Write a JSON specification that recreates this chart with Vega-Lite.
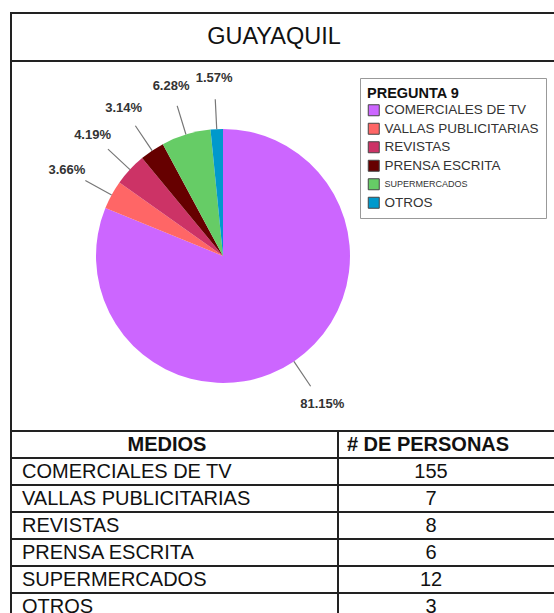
{
  "$schema": "https://vega.github.io/schema/vega-lite/v6.json",
  "padding": {"left": 9, "top": 12, "right": 0, "bottom": 0},
  "background": "white",
  "bounds": "flush",
  "datasets": {
    "medios": [
      {"orden": 1, "medio": "COMERCIALES DE TV", "personas": 155, "pct": 0.8115},
      {"orden": 2, "medio": "VALLAS PUBLICITARIAS", "personas": 7, "pct": 0.0366},
      {"orden": 3, "medio": "REVISTAS", "personas": 8, "pct": 0.0419},
      {"orden": 4, "medio": "PRENSA ESCRITA", "personas": 6, "pct": 0.0314},
      {"orden": 5, "medio": "SUPERMERCADOS", "personas": 12, "pct": 0.0628},
      {"orden": 6, "medio": "OTROS", "personas": 3, "pct": 0.0157}
    ]
  },
  "config": {
    "view": {"stroke": "#222", "strokeWidth": 2},
    "font": "Liberation Sans",
    "concat": {"spacing": 0}
  },
  "spacing": 0,
  "vconcat": [
    {
      "width": 565,
      "height": 48,
      "data": {"values": [{"titulo": "GUAYAQUIL"}]},
      "layer": [
        {
          "mark": {"type": "rect", "fill": "white", "stroke": "#222", "strokeWidth": 2},
          "encoding": {}
        },
        {
          "mark": {"type": "text", "x": 263, "fontSize": 23.5, "color": "#111", "baseline": "middle"},
          "encoding": {"text": {"field": "titulo"}}
        }
      ]
    },
    {
      "width": 565,
      "height": 370,
      "data": {"name": "medios"},
      "layer": [
        {
          "data": {"values": [{"marco": "grafico"}]},
          "mark": {"type": "rect", "fill": "white", "stroke": "#222", "strokeWidth": 2},
          "encoding": {}
        },
        {
          "mark": {"type": "arc", "x": 212, "y": 195, "radius": 127},
          "encoding": {
            "theta": {"field": "personas", "type": "quantitative", "stack": "normalize"},
            "order": {"field": "orden"},
            "color": {
              "field": "medio",
              "type": "nominal",
              "scale": {
                "domain": ["COMERCIALES DE TV", "VALLAS PUBLICITARIAS", "REVISTAS", "PRENSA ESCRITA", "SUPERMERCADOS", "OTROS"],
                "range": ["#CC66FF", "#FF6666", "#CC3366", "#660000", "#66CC66", "#0099CC"]
              },
              "legend": {
                "title": "PREGUNTA 9",
                "orient": "none",
                "legendX": 349,
                "legendY": 65,
                "strokeColor": "#999",
                "fillColor": "white",
                "padding": 7,
                "cornerRadius": 0,
                "titleFontSize": 14.5,
                "titleFontWeight": "bold",
                "titleColor": "#111",
                "titlePadding": 4,
                "labelFontSize": 13.5,
                "labelColor": "#333",
                "labelLimit": 300,
                "labelOffset": 4,
                "symbolType": "square",
                "symbolSize": 121,
                "symbolStrokeColor": "#444",
                "symbolStrokeWidth": 1,
                "symbolOpacity": 1,
                "rowPadding": 2.5,
                "encode": {
                  "title": {"update": {"dy": {"value": 2}}},
                  "labels": {
                    "update": {
                      "fontSize": {"signal": "datum.value === 'SUPERMERCADOS' ? 9 : 13.5"}
                    }
                  }
                }
              }
            }
          }
        },
        {
          "transform": [
            {"fold": ["personas", "personas", "personas"], "as": ["clave", "valor"]},
            {"window": [{"op": "row_number", "as": "tercio"}], "groupby": ["medio"]}
          ],
          "mark": {
            "type": "arc",
            "x": 212,
            "y": 195,
            "radius": 157,
            "radius2": 127,
            "padAngle": 3.14,
            "filled": false,
            "stroke": "#777",
            "strokeWidth": 1.2
          },
          "encoding": {
            "theta": {"field": "valor", "type": "quantitative", "stack": "normalize"},
            "order": [{"field": "orden"}, {"field": "tercio"}],
            "strokeOpacity": {"condition": {"test": "datum.tercio === 2", "value": 1}, "value": 0}
          }
        },
        {
          "mark": {
            "type": "text",
            "x": 212,
            "y": 195,
            "radius": 178,
            "fontSize": 13,
            "fontWeight": "bold",
            "color": "#333"
          },
          "encoding": {
            "theta": {"field": "personas", "type": "quantitative", "stack": "normalize"},
            "order": {"field": "orden"},
            "text": {"field": "pct", "type": "quantitative", "format": ".2%"}
          }
        }
      ]
    },
    {
      "spacing": 0,
      "bounds": "flush",
      "hconcat": [
        {
          "width": 327,
          "height": 189,
          "data": {"name": "medios"},
          "layer": [
            {
              "mark": {"type": "rect", "fill": "white", "stroke": "#222", "strokeWidth": 2},
              "encoding": {
                "y": {
                  "field": "medio",
                  "type": "nominal",
                  "scale": {
                    "domain": ["MEDIOS", "COMERCIALES DE TV", "VALLAS PUBLICITARIAS", "REVISTAS", "PRENSA ESCRITA", "SUPERMERCADOS", "OTROS"],
                    "paddingInner": 0,
                    "paddingOuter": 0
                  },
                  "axis": null
                }
              }
            },
            {
              "mark": {"type": "text", "align": "left", "x": 11, "fontSize": 20, "color": "#111"},
              "encoding": {
                "y": {"field": "medio", "type": "nominal", "axis": null},
                "text": {"field": "medio"}
              }
            },
            {
              "data": {"values": [{"cabecera": "MEDIOS"}]},
              "mark": {"type": "text", "x": 156, "fontSize": 20, "fontWeight": "bold", "color": "#111"},
              "encoding": {
                "y": {"field": "cabecera", "type": "nominal", "axis": null},
                "text": {"field": "cabecera"}
              }
            }
          ]
        },
        {
          "width": 238,
          "height": 189,
          "data": {"name": "medios"},
          "layer": [
            {
              "mark": {"type": "rect", "fill": "white", "stroke": "#222", "strokeWidth": 2},
              "encoding": {
                "y": {
                  "field": "medio",
                  "type": "nominal",
                  "scale": {
                    "domain": ["# DE PERSONAS", "COMERCIALES DE TV", "VALLAS PUBLICITARIAS", "REVISTAS", "PRENSA ESCRITA", "SUPERMERCADOS", "OTROS"],
                    "paddingInner": 0,
                    "paddingOuter": 0
                  },
                  "axis": null
                }
              }
            },
            {
              "mark": {"type": "text", "align": "center", "x": 93, "fontSize": 20, "color": "#111"},
              "encoding": {
                "y": {"field": "medio", "type": "nominal", "axis": null},
                "text": {"field": "personas", "type": "quantitative"}
              }
            },
            {
              "data": {"values": [{"cabecera": "# DE PERSONAS"}]},
              "mark": {"type": "text", "x": 90, "fontSize": 20, "fontWeight": "bold", "color": "#111"},
              "encoding": {
                "y": {"field": "cabecera", "type": "nominal", "axis": null},
                "text": {"field": "cabecera"}
              }
            }
          ]
        }
      ]
    }
  ]
}
